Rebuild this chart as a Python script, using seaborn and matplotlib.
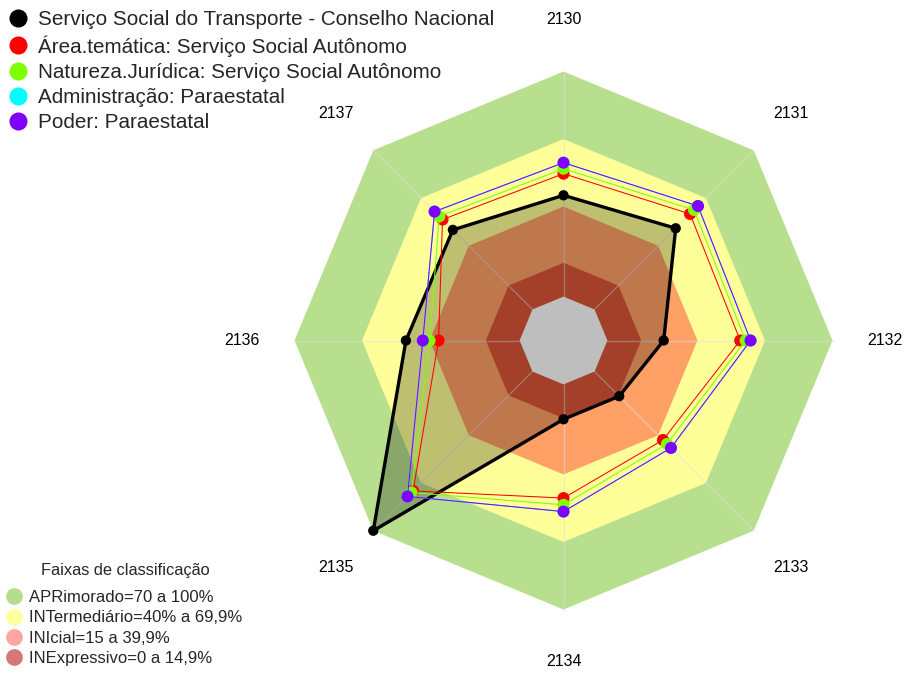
import numpy as np
import pandas as pd
import matplotlib.pyplot as plt
from matplotlib.lines import Line2D
from matplotlib.patches import Polygon
import seaborn as sns

# axis labels (clockwise from the top)
eixos = ['2130', '2131', '2132', '2133', '2134', '2135', '2136', '2137']

# series values (%)
serie_nomes = ['Serviço Social do Transporte - Conselho Nacional',
               'Área.temática: Serviço Social Autônomo',
               'Natureza.Jurídica: Serviço Social Autônomo',
               'Administração: Paraestatal',
               'Poder: Paraestatal']
conselho = [45, 51, 25, 15.5, 15.5, 100, 50.5, 50]
area_tematica = [54.6, 60, 59, 43, 50.5, 75, 36, 56.5]
natureza = [56.8, 62.5, 61.4, 45.5, 53.5, 76, 40, 58.5]
administracao = [59.5, 65, 63.6, 48, 56.5, 78.5, 43, 61.5]
poder = [59.5, 65, 63.6, 48, 56.5, 78.5, 43, 61.5]
serie_cores = ['black', '#FF0000', '#7FFF00', '#00FFFF', '#8000FF']

# classification bands
faixas_limites = [100, 70, 40, 15, 0]
faixas_cores = ['#B8DF8E', '#FFFF99', '#FFA066', '#DC5639', '#BEBEBE']
faixas_legenda = ['APRimorado=70 a 100%', 'INTermediário=40% a 69,9%',
                  'INIcial=15 a 39,9%', 'INExpressivo=0 a 14,9%']
faixas_legenda_cores = ['#B5DC8C', '#FFFFA0', '#FFA5A5', '#D77878']

vmin, vmax = -19.5, 100

sns.set_style('white')
plt.rcParams['font.family'] = ['Liberation Sans', 'DejaVu Sans']

n = len(eixos)
ang = np.pi / 2 - np.arange(n) * 2 * np.pi / n


def to_xy(vals):
    r = (np.asarray(vals, dtype=float) - vmin) / (vmax - vmin)
    return r * np.cos(ang), r * np.sin(ang)


# long table of series coordinates (closed polygons)
linhas = []
for nome, vals in zip(serie_nomes, [conselho, area_tematica, natureza, administracao, poder]):
    xs, ys = to_xy(vals)
    for k in list(range(n)) + [0]:
        linhas.append({'serie': nome, 'eixo': eixos[k], 'x': xs[k], 'y': ys[k]})
df = pd.DataFrame(linhas)

cx, cy, R = 563.5, 340.5, 269.0
fig = plt.figure(figsize=(9.05, 6.73), dpi=100)
ax = fig.add_axes([0, 0, 1, 1])
ax.set_xlim(-cx / R, (905 - cx) / R)
ax.set_ylim((cy - 673) / R, cy / R)
ax.axis('off')

# bands
for lim, cor in zip(faixas_limites[:-1], faixas_cores[:-1]):
    xs, ys = to_xy([lim] * n)
    ax.add_patch(Polygon(np.column_stack([xs, ys]), closed=True, fc=cor, ec='none', zorder=1))

# spokes
xo, yo = to_xy([vmax] * n)
for k in range(n):
    ax.plot([0, xo[k]], [0, yo[k]], color='#DDDDDD', lw=1.0, alpha=0.55, zorder=2)

# fill of the main series
d0 = df[df['serie'] == serie_nomes[0]]
ax.add_patch(Polygon(d0[['x', 'y']].values, closed=True, fc='black', alpha=0.25, ec='none', zorder=3))

# grey centre (values below zero)
xs, ys = to_xy([faixas_limites[-1]] * n)
ax.add_patch(Polygon(np.column_stack([xs, ys]), closed=True, fc=faixas_cores[-1], ec='none', zorder=4))

# series lines and points
for i, (nome, cor) in enumerate(zip(serie_nomes, serie_cores)):
    d = df[df['serie'] == nome]
    lw = 2.4 if i == 0 else 0.75
    ms = 55 if i == 0 else 75
    sns.lineplot(data=d, x='x', y='y', sort=False, estimator=None, color=cor, lw=lw,
                 ax=ax, legend=False, zorder=5 + i)
    sns.scatterplot(data=d.iloc[:-1], x='x', y='y', color=cor, s=ms, edgecolor='none',
                    ax=ax, legend=False, zorder=5.5 + i)
ax.set_xlabel('')
ax.set_ylabel('')

# axis labels
for k, lab in enumerate(eixos):
    ax.text(1.195 * np.cos(ang[k]), 1.195 * np.sin(ang[k]), lab, ha='center', va='center',
            fontsize=11.5, color='black')

# series legend
h1 = [Line2D([], [], marker='o', ls='', color=c, markersize=12) for c in serie_cores]
fig.legend(h1, serie_nomes, loc='upper left', bbox_to_anchor=(7.6 / 905, 1 - 10 / 673),
           frameon=False, fontsize=14.9, handlelength=1.0, handletextpad=0.47,
           labelspacing=0.30, borderpad=0, borderaxespad=0)

# bands legend
fig.text(125 / 905, 1 - 571 / 673, 'Faixas de classificação', ha='center', va='center', fontsize=11.8)
h2 = [Line2D([], [], marker='o', ls='', color=c, markersize=11) for c in faixas_legenda_cores]
fig.legend(h2, faixas_legenda, loc='upper left', bbox_to_anchor=(5.7 / 905, 1 - 590 / 673),
           frameon=False, fontsize=12, handlelength=1.0, handletextpad=0.40,
           labelspacing=0.32, borderpad=0, borderaxespad=0)

fig.savefig('out.png', dpi=100)
